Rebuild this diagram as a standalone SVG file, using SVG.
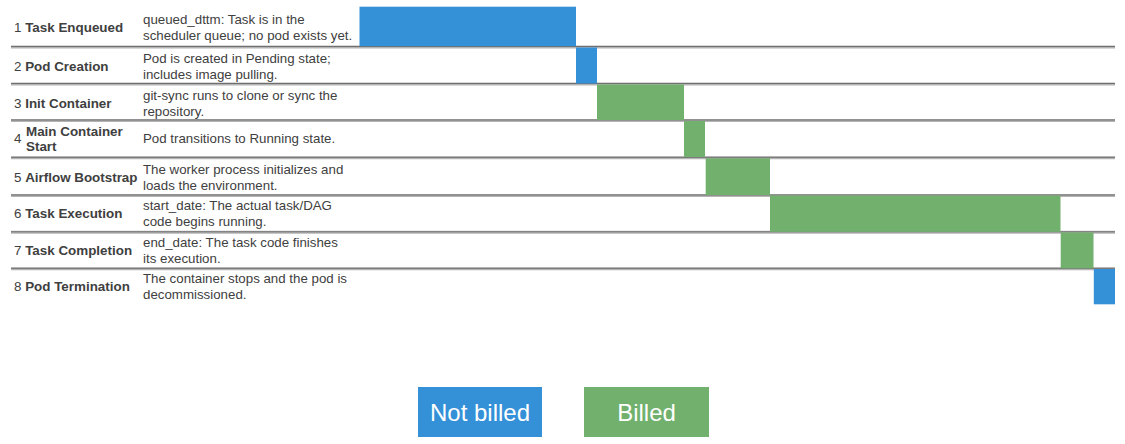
<svg xmlns="http://www.w3.org/2000/svg" width="1125" height="444" viewBox="0 0 1125 444">
<defs>
<style>
.lbl{font-family:"Liberation Sans",Arial,sans-serif;font-size:13.4px;fill:#404040}
.b{font-weight:bold}
.desc{font-family:"Liberation Sans",Arial,sans-serif;font-size:13.3px;fill:#404040}
.sep{stroke:#b4b4b4;stroke-width:3}
.sepd{stroke:#6f6f6f;stroke-width:1}
.nb{fill:#3490D7}
.bl{fill:#71B06D}
.leg{font-family:"Liberation Sans",Arial,sans-serif;font-size:24px;fill:#ffffff;text-anchor:middle}
</style>
</defs>
<rect width="1125" height="444" fill="#ffffff"/>
<g id="separators">
<line class="sep" x1="11" y1="47" x2="1115" y2="47"/><line class="sepd" x1="11" y1="46.5" x2="1115" y2="46.5"/>
<line class="sep" x1="11" y1="84" x2="1115" y2="84"/><line class="sepd" x1="11" y1="83.5" x2="1115" y2="83.5"/>
<line class="sep" x1="11" y1="120.5" x2="1115" y2="120.5"/><line class="sepd" x1="11" y1="120" x2="1115" y2="120"/>
<line class="sep" x1="11" y1="157.8" x2="1115" y2="157.8"/><line class="sepd" x1="11" y1="157.3" x2="1115" y2="157.3"/>
<line class="sep" x1="11" y1="195.5" x2="1115" y2="195.5"/><line class="sepd" x1="11" y1="195" x2="1115" y2="195"/>
<line class="sep" x1="11" y1="232.3" x2="1115" y2="232.3"/><line class="sepd" x1="11" y1="231.8" x2="1115" y2="231.8"/>
<line class="sep" x1="11" y1="268.8" x2="1115" y2="268.8"/><line class="sepd" x1="11" y1="268.3" x2="1115" y2="268.3"/>
</g>
<g id="bars">
<rect id="bar1" class="nb" x="359.5" y="6.7" width="216.5" height="39.5"/>
<rect id="bar2" class="nb" x="576" y="47.5" width="21" height="36"/>
<rect id="bar3" class="bl" x="597" y="84.5" width="87" height="35.5"/>
<rect id="bar4" class="bl" x="684" y="121" width="21" height="36"/>
<rect id="bar5" class="bl" x="705.7" y="158.3" width="64.3" height="36.7"/>
<rect id="bar6" class="bl" x="770" y="195.5" width="290.5" height="36.3"/>
<rect id="bar7" class="bl" x="1060.7" y="232.5" width="32.8" height="35.8"/>
<rect id="bar8" class="nb" x="1093.8" y="269" width="21.2" height="35.3"/>
</g>
<g id="row1">
<text class="lbl" x="14" y="32"><tspan>1 </tspan><tspan class="b">Task Enqueued</tspan></text>
<text class="desc" x="143" y="24">queued_dttm: Task is in the</text>
<text class="desc" x="143" y="40">scheduler queue; no pod exists yet.</text>
</g>
<g id="row2">
<text class="lbl" x="14" y="70.5"><tspan>2 </tspan><tspan class="b">Pod Creation</tspan></text>
<text class="desc" x="143" y="62.5">Pod is created in Pending state;</text>
<text class="desc" x="143" y="78.5">includes image pulling.</text>
</g>
<g id="row3">
<text class="lbl" x="14" y="107.5"><tspan>3 </tspan><tspan class="b">Init Container</tspan></text>
<text class="desc" x="143" y="99.5">git-sync runs to clone or sync the</text>
<text class="desc" x="143" y="115.5">repository.</text>
</g>
<g id="row4">
<text class="lbl" x="14" y="143">4</text>
<text class="lbl b" x="26" y="136">Main Container</text>
<text class="lbl b" x="26" y="151">Start</text>
<text class="desc" x="143" y="143">Pod transitions to Running state.</text>
</g>
<g id="row5">
<text class="lbl" x="14" y="181.5"><tspan>5 </tspan><tspan class="b">Airflow Bootstrap</tspan></text>
<text class="desc" x="143" y="173.5">The worker process initializes and</text>
<text class="desc" x="143" y="189.5">loads the environment.</text>
</g>
<g id="row6">
<text class="lbl" x="14" y="218"><tspan>6 </tspan><tspan class="b">Task Execution</tspan></text>
<text class="desc" x="143" y="210">start_date: The actual task/DAG</text>
<text class="desc" x="143" y="226">code begins running.</text>
</g>
<g id="row7">
<text class="lbl" x="14" y="255"><tspan>7 </tspan><tspan class="b">Task Completion</tspan></text>
<text class="desc" x="143" y="247">end_date: The task code finishes</text>
<text class="desc" x="143" y="263">its execution.</text>
</g>
<g id="row8">
<text class="lbl" x="14" y="291"><tspan>8 </tspan><tspan class="b">Pod Termination</tspan></text>
<text class="desc" x="143" y="283">The container stops and the pod is</text>
<text class="desc" x="143" y="299">decommissioned.</text>
</g>
<g id="legend-notbilled">
<rect class="nb" x="418" y="387" width="124" height="50"/>
<text class="leg" x="480" y="421">Not billed</text>
</g>
<g id="legend-billed">
<rect class="bl" x="584" y="387" width="125" height="50"/>
<text class="leg" x="646.5" y="421">Billed</text>
</g>
</svg>
